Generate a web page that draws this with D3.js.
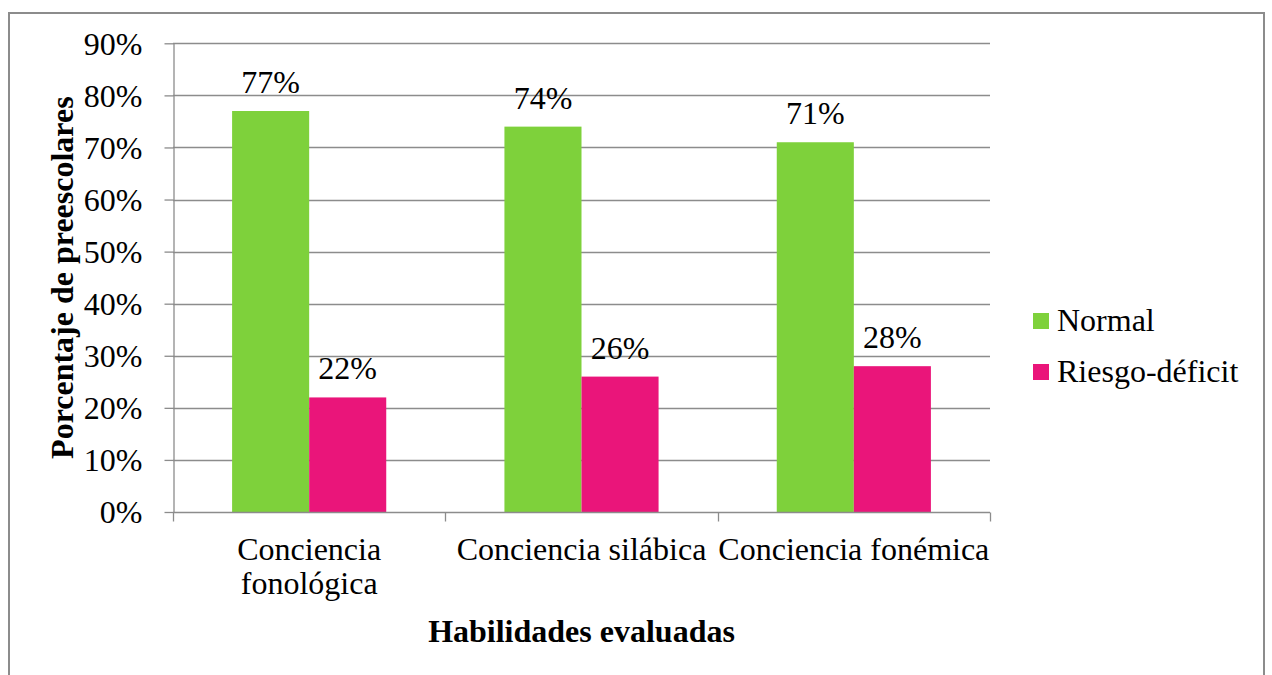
<!DOCTYPE html>
<html><head><meta charset="utf-8">
<script src="https://cdn.jsdelivr.net/npm/d3@7"></script>
<style>body{margin:0;background:#fff}</style>
</head><body><svg id="c" width="1272" height="675" font-family="Liberation Serif"></svg>
<script>
const categories = [["Conciencia","fonológica"],["Conciencia silábica"],["Conciencia fonémica"]];
const seriesNames = ["Normal","Riesgo-déficit"];
const normal = [77, 74, 71];
const riesgo = [22, 26, 28];
const yTicks = [0,10,20,30,40,50,60,70,80,90];
const colors = ["#7ED13B","#EA157A"];
const FF = "Liberation Serif";
const FS = 32;

const svg = d3.select("#c");
svg.append("rect").attr("x",9).attr("y",13).attr("width",1255).attr("height",700)
  .attr("fill","none").attr("stroke","#8c8c8c").attr("stroke-width",2);

const L=173, R=990, T=43.3, B=512;
const x = d3.scaleBand().domain(d3.range(categories.length)).range([L,R]).padding(0);
const bw = x.bandwidth();
const xi = d3.scaleBand().domain([0,1]).range([bw*0.217, bw*0.783]).padding(0);
const y = d3.scaleLinear().domain([0,90]).range([B,T]);

// gridlines
svg.append("g").selectAll("line").data(yTicks.filter(d=>d>0)).join("line")
  .attr("x1",L).attr("x2",R).attr("y1",d=>Math.round(y(d))+0.5).attr("y2",d=>Math.round(y(d))+0.5)
  .attr("stroke","#8c8c8c").attr("stroke-width",1.3);

// y axis
const ya = svg.append("g").attr("transform",`translate(${L+0.5},0)`)
  .call(d3.axisLeft(y).tickValues(yTicks).tickFormat(d=>d+"%").tickSizeOuter(0).tickSizeInner(9).tickPadding(22));
ya.attr("font-family",FF).attr("font-size",FS);
ya.select(".domain").attr("stroke","#8c8c8c").attr("stroke-width",1.3);
ya.selectAll(".tick line").attr("stroke","#8c8c8c").attr("stroke-width",1.3);
ya.selectAll(".tick text").attr("fill","#000").attr("dy","0.34em");

// bars
const data = categories.map((c,i)=>[normal[i],riesgo[i]]);
const g = svg.append("g");
data.forEach((vals,i)=>{
  vals.forEach((v,j)=>{
    g.append("rect").attr("x",x(i)+xi(j)).attr("width",xi.bandwidth())
      .attr("y",y(v)).attr("height",y(0)-y(v)).attr("fill",colors[j]);
    g.append("text").attr("x",x(i)+xi(j)+xi.bandwidth()/2).attr("y",y(v)-18)
      .attr("text-anchor","middle").attr("font-family",FF).attr("font-size",FS).text(v+"%");
  });
});

// x axis
const xa = svg.append("g").attr("transform",`translate(0,${B+0.5})`);
xa.append("line").attr("x1",L).attr("x2",R).attr("stroke","#8c8c8c").attr("stroke-width",1.3);
const bounds = d3.range(categories.length+1).map(i=> i<categories.length? x(i): R);
xa.selectAll("line.t").data(bounds).join("line").attr("class","t")
  .attr("x1",d=>Math.round(d)+0.5).attr("x2",d=>Math.round(d)+0.5).attr("y1",0).attr("y2",9)
  .attr("stroke","#8c8c8c").attr("stroke-width",1.3);
categories.forEach((c,i)=>{
  const t = svg.append("text").attr("text-anchor","middle").attr("font-family",FF).attr("font-size",FS);
  c.forEach((line,k)=>{
    t.append("tspan").attr("x",x(i)+bw/2).attr("y",560+k*34).text(line);
  });
});

// axis titles
svg.append("text").attr("x",(L+R)/2).attr("y",642).attr("text-anchor","middle")
  .attr("font-family",FF).attr("font-size",FS).attr("font-weight","bold").text("Habilidades evaluadas");
svg.append("text").attr("transform",`translate(73,${(T+B)/2}) rotate(-90)`)
  .attr("text-anchor","middle").attr("font-family",FF).attr("font-size",FS).attr("font-weight","bold").text("Porcentaje de preescolares");

// legend
seriesNames.forEach((s,j)=>{
  const yy = 313 + j*51;
  svg.append("rect").attr("x",1033).attr("y",yy).attr("width",16).attr("height",16).attr("fill",colors[j]);
  svg.append("text").attr("x",1057).attr("y",yy+18).attr("font-family",FF).attr("font-size",FS).text(s);
});
</script></body></html>
